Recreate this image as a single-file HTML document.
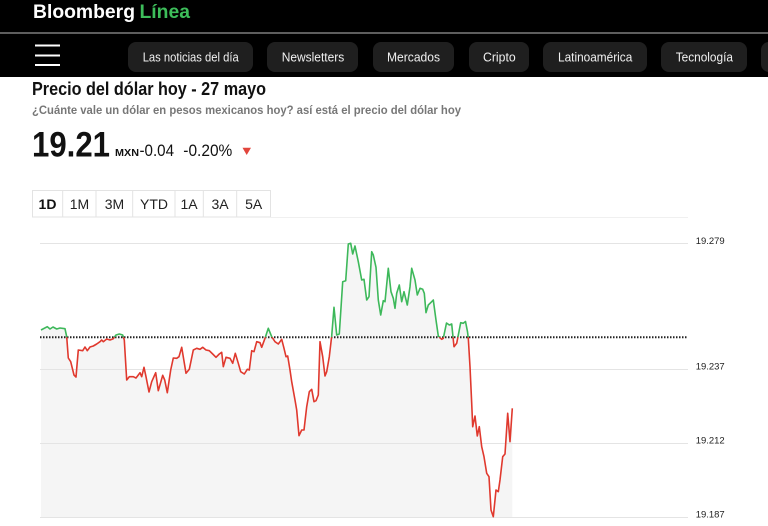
<!DOCTYPE html>
<html><head><meta charset="utf-8"><style>
html,body{margin:0;padding:0;background:#fff;}
svg{display:block;}
text{font-family:"Liberation Sans",Arial,sans-serif;}
</style></head><body>
<svg width="768" height="526" viewBox="0 0 768 526" xmlns="http://www.w3.org/2000/svg">
<defs>
<clipPath id="above"><rect x="0" y="0" width="768" height="337.3"/></clipPath>
<clipPath id="below"><rect x="0" y="337.3" width="768" height="200"/></clipPath>
</defs>
<!-- header -->
<rect x="0" y="0" width="768" height="77" fill="#000"/>
<rect x="0" y="32" width="768" height="2" fill="#5e5e5e"/>
<text x="33" y="18" font-size="19" font-weight="bold" fill="#fff" textLength="102" lengthAdjust="spacingAndGlyphs">Bloomberg</text>
<text x="139.5" y="18" font-size="19" font-weight="bold" fill="#3dbd5a" textLength="50.5" lengthAdjust="spacingAndGlyphs">Línea</text>
<!-- hamburger -->
<rect x="35" y="44.5" width="25" height="2" fill="#fff"/>
<rect x="35" y="54.5" width="25" height="2" fill="#fff"/>
<rect x="35" y="64" width="25" height="2" fill="#fff"/>
<!-- nav pills -->
<g fill="#1f1f1f">
<rect x="128" y="42" width="125" height="30" rx="8"/>
<rect x="267" y="42" width="91" height="30" rx="8"/>
<rect x="373" y="42" width="81" height="30" rx="8"/>
<rect x="469" y="42" width="60" height="30" rx="8"/>
<rect x="543" y="42" width="104" height="30" rx="8"/>
<rect x="661" y="42" width="86" height="30" rx="8"/>
<rect x="761" y="42" width="40" height="30" rx="8"/>
</g>
<g fill="#f0f0f0" font-size="13">
<text x="142.7" y="61.5" textLength="96" lengthAdjust="spacingAndGlyphs">Las noticias del día</text>
<text x="281.7" y="61.5" textLength="62.6" lengthAdjust="spacingAndGlyphs">Newsletters</text>
<text x="387" y="61.5" textLength="53" lengthAdjust="spacingAndGlyphs">Mercados</text>
<text x="483" y="61.5" textLength="32.7" lengthAdjust="spacingAndGlyphs">Cripto</text>
<text x="558" y="61.5" textLength="74.3" lengthAdjust="spacingAndGlyphs">Latinoamérica</text>
<text x="675.7" y="61.5" textLength="57.3" lengthAdjust="spacingAndGlyphs">Tecnología</text>
</g>
<!-- title -->
<text x="32" y="95" font-size="18.5" font-weight="bold" fill="#111" textLength="234" lengthAdjust="spacingAndGlyphs">Precio del dólar hoy - 27 mayo</text>
<text x="32" y="114" font-size="12" font-weight="bold" fill="#777" textLength="429" lengthAdjust="spacingAndGlyphs">¿Cuánte vale un dólar en pesos mexicanos hoy? así está el precio del dólar hoy</text>
<!-- price -->
<text x="32" y="156.5" font-size="35" font-weight="bold" fill="#111" textLength="78" lengthAdjust="spacingAndGlyphs">19.21</text>
<text x="115" y="156" font-size="10" font-weight="bold" fill="#111" textLength="24" lengthAdjust="spacingAndGlyphs">MXN</text>
<text x="139.5" y="156" font-size="17" fill="#111" textLength="34.5" lengthAdjust="spacingAndGlyphs">-0.04</text>
<text x="183.3" y="156" font-size="17" fill="#111" textLength="49" lengthAdjust="spacingAndGlyphs">-0.20%</text>
<polygon points="242.5,147.7 251,147.7 246.7,155" fill="#e2453c"/>
<!-- tabs -->
<g fill="none" stroke="#e3e3e3" stroke-width="1">
<rect x="32.5" y="190.5" width="238" height="26.5"/>
<line x1="62.7" y1="190.5" x2="62.7" y2="217"/>
<line x1="96" y1="190.5" x2="96" y2="217"/>
<line x1="132.7" y1="190.5" x2="132.7" y2="217"/>
<line x1="175" y1="190.5" x2="175" y2="217"/>
<line x1="203.3" y1="190.5" x2="203.3" y2="217"/>
<line x1="236.7" y1="190.5" x2="236.7" y2="217"/>
</g>
<g font-size="14" fill="#222" text-anchor="middle">
<text x="47.5" y="209" font-weight="bold" fill="#111">1D</text>
<text x="79.5" y="209">1M</text>
<text x="114.5" y="209">3M</text>
<text x="154" y="209">YTD</text>
<text x="189" y="209">1A</text>
<text x="220" y="209">3A</text>
<text x="253.7" y="209">5A</text>
</g>
<line x1="270" y1="217.5" x2="688" y2="217.5" stroke="#f0f0f0" stroke-width="1"/>
<!-- area fill -->
<polygon fill="#f5f5f5" points="41,330 47.3,326.7 50,329 53,327 56.7,329 60,328 65,328.7 66.7,336.7 68.3,358 70.7,361.7 74,375 76,377 78.3,350 82.7,350.7 85,347 87.3,350.7 90,347 93.3,346 96.7,344 100,341.7 101.7,340 103.3,341.7 106.7,339 110,340 113.3,338.7 116,335 119.3,334 122.7,335 124.3,340 126.7,380 129.3,376.7 133.3,376.7 136,378 138.3,375 140,372.7 141.7,376.7 144,367.3 146,376.7 149,392 151.7,381.7 155.7,372.7 158.3,390.7 162.7,375.3 164.7,380 167.3,392.7 170.7,370 173.3,358 176.7,358.3 179,356.7 181.7,347.3 186,373.3 189.3,369.3 193.3,350 196.7,348.3 200,349.3 202.7,347.3 206,350 209.3,350.7 212.7,354 216,357.3 219.3,354 221.7,352.3 223.3,366.7 226,357.3 230,358.3 232.7,363.3 235.3,353.3 238.3,363.3 240.7,371.7 244.3,374 247.3,369.3 249.3,370 251.7,350.7 254,351.7 256.7,341.7 260,342.7 261.7,347.3 265,338.3 268.3,328.3 271.7,336.7 275,341.7 278.3,344 281.7,339.3 284,348.3 286,356.7 287.7,356 290,370 291.7,381.7 295,400 296.7,410 299,435.7 301.7,430 304,430 306.7,406.7 309.3,391.7 311.7,389.3 314,401.7 316,400.7 318.3,395 320,341.7 322.7,356.7 325,376 326.7,371.7 329.3,356.7 331.7,336 334,307.3 336.7,335 339.3,334 342.7,281.7 345.7,280.7 348.3,244 350.7,243.3 352.7,254 355,246 358.3,261.7 361.7,280 364,279.3 366.7,300 369,296.7 371.7,251.7 373.3,255 376,267.3 378.3,300 380.7,315 383.3,300.7 385,301.7 388.3,268.3 391,291.7 393.3,298.3 395,308.3 396.7,293.3 399.3,285 401.7,301.7 404,291.7 407.3,305 410,286.7 411.7,268.3 415,280 417.3,295 420,288.3 422.7,289.3 424.3,293.3 426,312.7 428.3,305 431.7,301.7 433.3,300 436,320 438.3,336 441.7,339.3 443.3,338.3 446.5,323 449.3,325 451.7,324 454,346.7 456.7,343.3 460.7,322.7 463.3,323.3 465.5,321.5 467.5,331.7 468.3,338.3 470,366.7 471.7,403.3 472.7,426.7 475,416 477.3,436 479.3,426.7 481.7,446.7 484,456.7 486.7,473.3 489,476.7 491,510 493.3,516.7 496,490 498.3,491.7 500,480 502.7,456.7 505,454 507.7,413.3 510,441.7 512.3,408.3 512.3,517 41,517"/>
<!-- grid (on top of fill) -->
<g stroke="#e4e4e4" stroke-width="1">
<line x1="40" y1="243.5" x2="688" y2="243.5"/>
<line x1="40" y1="369.5" x2="688" y2="369.5"/>
<line x1="40" y1="443.5" x2="688" y2="443.5"/>
<line x1="40" y1="517.5" x2="688" y2="517.5"/>
</g>
<g font-size="9.5" fill="#222">
<text x="695.7" y="244" textLength="29" lengthAdjust="spacingAndGlyphs">19.279</text>
<text x="695.7" y="369.3" textLength="29" lengthAdjust="spacingAndGlyphs">19.237</text>
<text x="695.7" y="443.7" textLength="29" lengthAdjust="spacingAndGlyphs">19.212</text>
<text x="695.7" y="517.3" textLength="29" lengthAdjust="spacingAndGlyphs">19.187</text>
</g>
<!-- previous close dotted -->
<line x1="40" y1="337.3" x2="688" y2="337.3" stroke="#222" stroke-width="2" stroke-dasharray="1.5 1.5"/>
<!-- line series -->
<g fill="none" stroke-width="1.6" stroke-linejoin="round">
<polyline clip-path="url(#above)" stroke="#3db85a" points="41,330 47.3,326.7 50,329 53,327 56.7,329 60,328 65,328.7 66.7,336.7 68.3,358 70.7,361.7 74,375 76,377 78.3,350 82.7,350.7 85,347 87.3,350.7 90,347 93.3,346 96.7,344 100,341.7 101.7,340 103.3,341.7 106.7,339 110,340 113.3,338.7 116,335 119.3,334 122.7,335 124.3,340 126.7,380 129.3,376.7 133.3,376.7 136,378 138.3,375 140,372.7 141.7,376.7 144,367.3 146,376.7 149,392 151.7,381.7 155.7,372.7 158.3,390.7 162.7,375.3 164.7,380 167.3,392.7 170.7,370 173.3,358 176.7,358.3 179,356.7 181.7,347.3 186,373.3 189.3,369.3 193.3,350 196.7,348.3 200,349.3 202.7,347.3 206,350 209.3,350.7 212.7,354 216,357.3 219.3,354 221.7,352.3 223.3,366.7 226,357.3 230,358.3 232.7,363.3 235.3,353.3 238.3,363.3 240.7,371.7 244.3,374 247.3,369.3 249.3,370 251.7,350.7 254,351.7 256.7,341.7 260,342.7 261.7,347.3 265,338.3 268.3,328.3 271.7,336.7 275,341.7 278.3,344 281.7,339.3 284,348.3 286,356.7 287.7,356 290,370 291.7,381.7 295,400 296.7,410 299,435.7 301.7,430 304,430 306.7,406.7 309.3,391.7 311.7,389.3 314,401.7 316,400.7 318.3,395 320,341.7 322.7,356.7 325,376 326.7,371.7 329.3,356.7 331.7,336 334,307.3 336.7,335 339.3,334 342.7,281.7 345.7,280.7 348.3,244 350.7,243.3 352.7,254 355,246 358.3,261.7 361.7,280 364,279.3 366.7,300 369,296.7 371.7,251.7 373.3,255 376,267.3 378.3,300 380.7,315 383.3,300.7 385,301.7 388.3,268.3 391,291.7 393.3,298.3 395,308.3 396.7,293.3 399.3,285 401.7,301.7 404,291.7 407.3,305 410,286.7 411.7,268.3 415,280 417.3,295 420,288.3 422.7,289.3 424.3,293.3 426,312.7 428.3,305 431.7,301.7 433.3,300 436,320 438.3,336 441.7,339.3 443.3,338.3 446.5,323 449.3,325 451.7,324 454,346.7 456.7,343.3 460.7,322.7 463.3,323.3 465.5,321.5 467.5,331.7 468.3,338.3 470,366.7 471.7,403.3 472.7,426.7 475,416 477.3,436 479.3,426.7 481.7,446.7 484,456.7 486.7,473.3 489,476.7 491,510 493.3,516.7 496,490 498.3,491.7 500,480 502.7,456.7 505,454 507.7,413.3 510,441.7 512.3,408.3"/>
<polyline clip-path="url(#below)" stroke="#e0392e" points="41,330 47.3,326.7 50,329 53,327 56.7,329 60,328 65,328.7 66.7,336.7 68.3,358 70.7,361.7 74,375 76,377 78.3,350 82.7,350.7 85,347 87.3,350.7 90,347 93.3,346 96.7,344 100,341.7 101.7,340 103.3,341.7 106.7,339 110,340 113.3,338.7 116,335 119.3,334 122.7,335 124.3,340 126.7,380 129.3,376.7 133.3,376.7 136,378 138.3,375 140,372.7 141.7,376.7 144,367.3 146,376.7 149,392 151.7,381.7 155.7,372.7 158.3,390.7 162.7,375.3 164.7,380 167.3,392.7 170.7,370 173.3,358 176.7,358.3 179,356.7 181.7,347.3 186,373.3 189.3,369.3 193.3,350 196.7,348.3 200,349.3 202.7,347.3 206,350 209.3,350.7 212.7,354 216,357.3 219.3,354 221.7,352.3 223.3,366.7 226,357.3 230,358.3 232.7,363.3 235.3,353.3 238.3,363.3 240.7,371.7 244.3,374 247.3,369.3 249.3,370 251.7,350.7 254,351.7 256.7,341.7 260,342.7 261.7,347.3 265,338.3 268.3,328.3 271.7,336.7 275,341.7 278.3,344 281.7,339.3 284,348.3 286,356.7 287.7,356 290,370 291.7,381.7 295,400 296.7,410 299,435.7 301.7,430 304,430 306.7,406.7 309.3,391.7 311.7,389.3 314,401.7 316,400.7 318.3,395 320,341.7 322.7,356.7 325,376 326.7,371.7 329.3,356.7 331.7,336 334,307.3 336.7,335 339.3,334 342.7,281.7 345.7,280.7 348.3,244 350.7,243.3 352.7,254 355,246 358.3,261.7 361.7,280 364,279.3 366.7,300 369,296.7 371.7,251.7 373.3,255 376,267.3 378.3,300 380.7,315 383.3,300.7 385,301.7 388.3,268.3 391,291.7 393.3,298.3 395,308.3 396.7,293.3 399.3,285 401.7,301.7 404,291.7 407.3,305 410,286.7 411.7,268.3 415,280 417.3,295 420,288.3 422.7,289.3 424.3,293.3 426,312.7 428.3,305 431.7,301.7 433.3,300 436,320 438.3,336 441.7,339.3 443.3,338.3 446.5,323 449.3,325 451.7,324 454,346.7 456.7,343.3 460.7,322.7 463.3,323.3 465.5,321.5 467.5,331.7 468.3,338.3 470,366.7 471.7,403.3 472.7,426.7 475,416 477.3,436 479.3,426.7 481.7,446.7 484,456.7 486.7,473.3 489,476.7 491,510 493.3,516.7 496,490 498.3,491.7 500,480 502.7,456.7 505,454 507.7,413.3 510,441.7 512.3,408.3"/>
</g>
</svg>
</body></html>
